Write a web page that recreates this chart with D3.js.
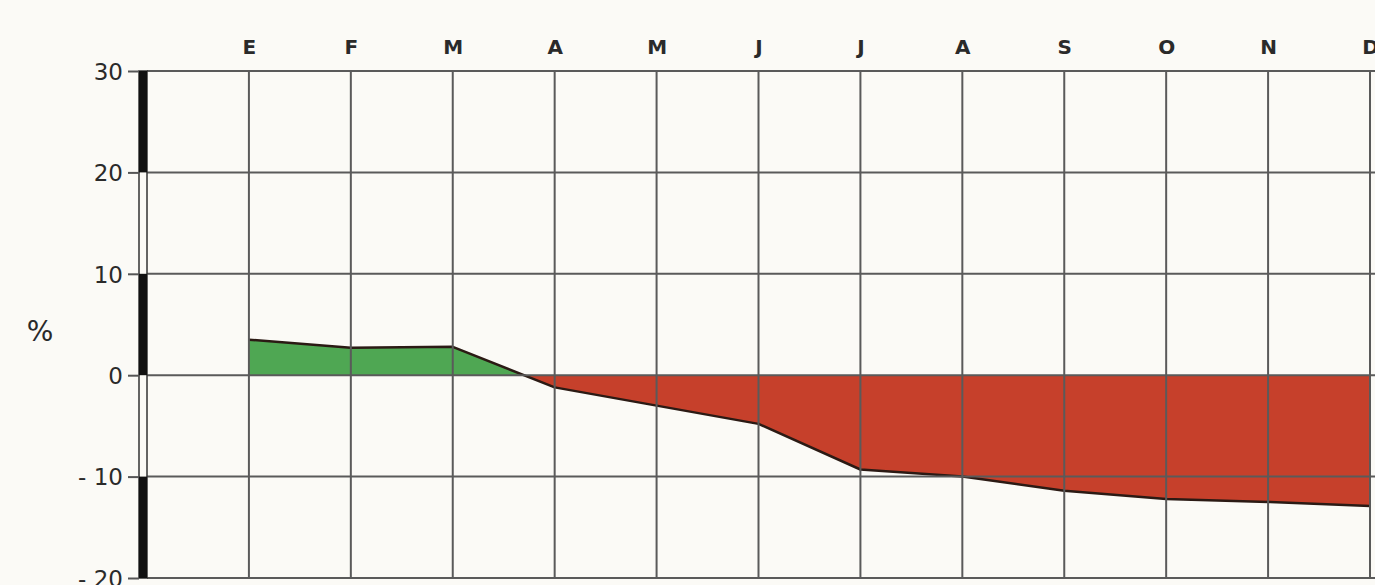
<!DOCTYPE html>
<html><head><meta charset="utf-8">
<script src="https://cdn.jsdelivr.net/npm/d3@7"></script>
<style>
html,body{margin:0;padding:0;background:#fbfaf6;}
svg{display:block;}
text{font-family:"DejaVu Sans","Liberation Sans",sans-serif;fill:#2a2a2a;}
</style></head>
<body>
<script>
const months = ["E","F","M","A","M","J","J","A","S","O","N","D"];
const values = [3.5, 2.7, 2.8, -1.2, -3.0, -4.8, -9.3, -10.0, -11.4, -12.2, -12.5, -12.9];
const yTicks = [30, 20, 10, 0, -10, -20];
const yTickLabels = ["30", "20", "10", "0", "- 10", "- 20"];
const scaleBarBands = [[30, 20], [10, 0], [-10, -20]];

const W = 1375, H = 585;
const svg = d3.select("body").append("svg").attr("width", W).attr("height", H);

const x = d3.scaleLinear().domain([0, 12]).range([147, 1370]);
const y = d3.scaleLinear().domain([-20, 30]).range([578, 71]);

const data = values.map((v, i) => ({i: i + 1, v}));

// areas, clipped above / below zero
const defs = svg.append("defs");
defs.append("clipPath").attr("id", "above").append("rect")
  .attr("x", 0).attr("y", 0).attr("width", W).attr("height", y(0));
defs.append("clipPath").attr("id", "below").append("rect")
  .attr("x", 0).attr("y", y(0)).attr("width", W).attr("height", H - y(0));

const curve = d3.curveLinear;
const area = d3.area().x(d => x(d.i)).y0(y(0)).y1(d => y(d.v)).curve(curve);
const line = d3.line().x(d => x(d.i)).y(d => y(d.v)).curve(curve);

svg.append("path").datum(data).attr("d", area).attr("fill", "#4fa753").attr("clip-path", "url(#above)");
svg.append("path").datum(data).attr("d", area).attr("fill", "#c6402b").attr("clip-path", "url(#below)");
svg.append("path").datum(data).attr("d", line).attr("fill", "none").attr("stroke", "#2b1a14")
  .attr("stroke-width", 2.5).attr("stroke-linejoin", "round");

// gridlines
const grid = svg.append("g").attr("stroke", "#5a5a5a").attr("stroke-width", 2);
grid.selectAll("line.h").data(yTicks).join("line")
  .attr("x1", x(0)).attr("x2", W).attr("y1", d => y(d)).attr("y2", d => y(d));
grid.selectAll("line.v").data(months.map((m, i) => i + 1)).join("line")
  .attr("x1", d => x(d)).attr("x2", d => x(d)).attr("y1", y(30)).attr("y2", y(-20));

// left axis (scale bar)
const bar = svg.append("g");
bar.append("rect").attr("x", x(0) - 8).attr("y", y(30)).attr("width", 8).attr("height", y(-20) - y(30))
  .attr("fill", "#fbfaf6").attr("stroke", "#333").attr("stroke-width", 1.5);
bar.selectAll("rect.band").data(scaleBarBands).join("rect")
  .attr("x", x(0) - 8).attr("width", 8)
  .attr("y", d => y(d[0])).attr("height", d => y(d[1]) - y(d[0]))
  .attr("fill", "#111");

// y ticks + labels
const yAxis = d3.axisLeft(y).tickValues(yTicks).tickSize(11).tickPadding(5)
  .tickFormat((d, i) => yTickLabels[i]);
const ya = svg.append("g").attr("transform", `translate(${x(0) - 8},0)`).call(yAxis);
ya.select(".domain").remove();
ya.selectAll(".tick line").attr("stroke", "#555").attr("stroke-width", 2);
ya.selectAll(".tick text").attr("font-size", 23).attr("fill", "#333").attr("dy", "0.36em");

// month labels
const xAxis = d3.axisTop(x).tickValues(months.map((m, i) => i + 1)).tickSize(0).tickPadding(17)
  .tickFormat((d) => months[d - 1]);
const xa = svg.append("g").attr("transform", `translate(0,${y(30)})`).call(xAxis);
xa.select(".domain").remove();
xa.selectAll(".tick text").attr("font-size", 20).attr("font-weight", "bold").attr("fill", "#222");

// % label
svg.append("text").attr("x", 40).attr("y", 333).attr("text-anchor", "middle")
  .attr("dominant-baseline", "middle").attr("font-size", 28).attr("fill", "#333").text("%");
</script>
</body></html>
